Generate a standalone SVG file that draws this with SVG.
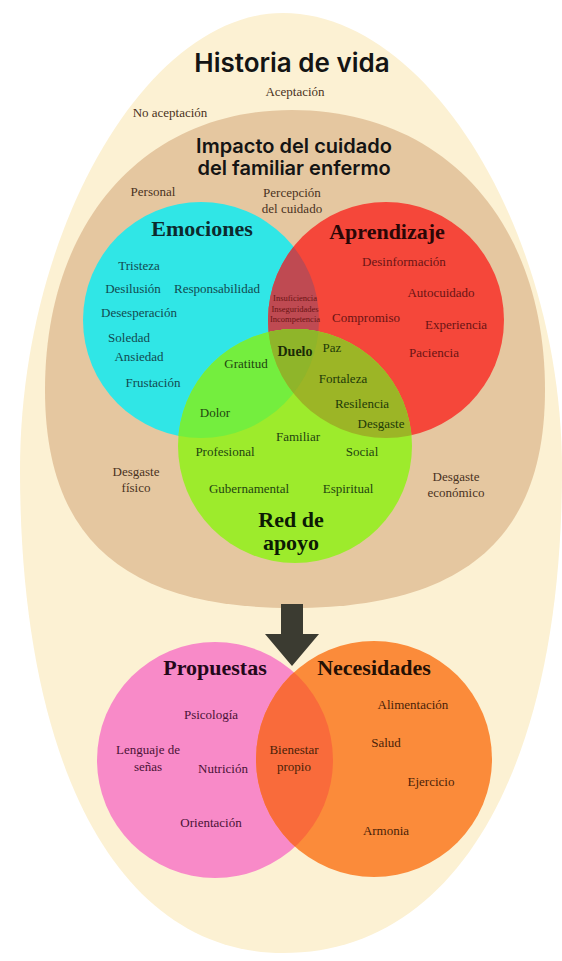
<svg xmlns="http://www.w3.org/2000/svg" width="562" height="961" viewBox="0 0 562 961">
<style>
.s{font-family:"Liberation Serif","Times New Roman",serif;font-size:13px;text-anchor:middle}
.tiny{font-size:8.5px}
.bold14{font-size:14px;font-weight:bold}
.b{font-family:"Liberation Serif","Times New Roman",serif;font-weight:bold;font-size:22px;text-anchor:middle}
.h{font-family:Inter,"Liberation Sans",sans-serif;font-weight:600;text-anchor:middle;fill:#141414}
.t{fill:#4a3222}
.cy{fill:#124a50}
.rd{fill:#6a1414}
.gr{fill:#1f4410}
.ol{fill:#1e3a08}
.pk{fill:#4a1236}
.or{fill:#4a2208}
</style>
<defs>
<clipPath id="clipCyan"><circle cx="201" cy="320" r="118"/></clipPath>
<clipPath id="clipRed"><circle cx="386" cy="320" r="118"/></clipPath>
<clipPath id="clipPink"><circle cx="215" cy="760" r="118"/></clipPath>
</defs>
<rect width="562" height="961" fill="#ffffff"/>

<g id="historia-de-vida">
<path d="M283,13 C428,13 562,232 562,470 C562,769 456,953 283,953 C120,953 20,769 20,470 C20,232 146,13 283,13 Z" fill="#fcf1d3"/>
<text class="h" x="292" y="72" style="font-size:26px">Historia de vida</text>
<text class="s t" x="295" y="96">Aceptación</text>
<text class="s t" x="170" y="117">No aceptación</text>
</g>

<g id="impacto">
<path d="M292,110 C444,110 545,222 545,390 C545,538 464,608 292,608 C124,608 45,538 45,390 C45,222 144,110 292,110 Z" fill="#e5c7a0"/>
<text class="h" x="294" y="153" style="font-size:20px">Impacto del cuidado</text>
<text class="h" x="294" y="175" style="font-size:20px">del familiar enfermo</text>
<text class="s t" x="153" y="196">Personal</text>
<text class="s t" x="292" y="197">Percepción</text>
<text class="s t" x="292" y="213">del cuidado</text>
<text class="s t" x="136" y="476">Desgaste</text>
<text class="s t" x="136" y="492">físico</text>
<text class="s t" x="456" y="481">Desgaste</text>
<text class="s t" x="456" y="497">económico</text>
</g>

<g id="emociones">
<circle cx="201" cy="320" r="118" fill="#30e6e6"/>
<text class="b" x="202" y="236" fill="#0c2a2e">Emociones</text>
<text class="s cy" x="139" y="270">Tristeza</text>
<text class="s cy" x="133" y="293">Desilusión</text>
<text class="s cy" x="217" y="293">Responsabilidad</text>
<text class="s cy" x="139" y="317">Desesperación</text>
<text class="s cy" x="129" y="342">Soledad</text>
<text class="s cy" x="139" y="361">Ansiedad</text>
<text class="s cy" x="153" y="387">Frustación</text>
</g>

<g id="aprendizaje">
<circle cx="386" cy="320" r="118" fill="#f5473a"/>
<text class="b" x="387" y="239" fill="#2a0606">Aprendizaje</text>
<text class="s rd" x="404" y="266">Desinformación</text>
<text class="s rd" x="441" y="297">Autocuidado</text>
<text class="s rd" x="366" y="322">Compromiso</text>
<text class="s rd" x="456" y="329">Experiencia</text>
<text class="s rd" x="434" y="357">Paciencia</text>
</g>

<g id="emociones-aprendizaje">
<circle cx="386" cy="320" r="118" fill="#bf4a52" clip-path="url(#clipCyan)"/>
<text class="s tiny rd" x="295" y="301">Insuficiencia</text>
<text class="s tiny rd" x="295" y="311.5">Inseguridades</text>
<text class="s tiny rd" x="295" y="322">Incompetencia</text>
</g>

<g id="red-de-apoyo">
<circle cx="295" cy="446" r="117" fill="#9deb2c"/>
<text class="b" x="291" y="527" fill="#0c1a04">Red de</text>
<text class="b" x="291" y="550" fill="#0c1a04">apoyo</text>
<text class="s gr" x="298" y="441">Familiar</text>
<text class="s gr" x="225" y="456">Profesional</text>
<text class="s gr" x="362" y="456">Social</text>
<text class="s gr" x="249" y="493">Gubernamental</text>
<text class="s gr" x="348" y="493">Espiritual</text>
</g>

<g id="emociones-red">
<circle cx="295" cy="446" r="117" fill="#74ee3e" clip-path="url(#clipCyan)"/>
<text class="s gr" x="246" y="368">Gratitud</text>
<text class="s gr" x="215" y="417">Dolor</text>
</g>

<g id="aprendizaje-red">
<circle cx="295" cy="446" r="117" fill="#9cb526" clip-path="url(#clipRed)"/>
<text class="s ol" x="332" y="352">Paz</text>
<text class="s ol" x="343" y="383">Fortaleza</text>
<text class="s ol" x="362" y="408">Resilencia</text>
<text class="s ol" x="381" y="428">Desgaste</text>
</g>

<g id="interseccion-central">
<g clip-path="url(#clipCyan)"><circle cx="295" cy="446" r="117" fill="#8fb52a" clip-path="url(#clipRed)"/></g>
<text class="s bold14" x="295" y="356" fill="#1a2a06">Duelo</text>
</g>

<g id="propuestas">
<circle cx="215" cy="760" r="118" fill="#f88ac8"/>
<text class="b" x="215" y="675" fill="#24081a">Propuestas</text>
<text class="s pk" x="211" y="719">Psicología</text>
<text class="s pk" x="148" y="754">Lenguaje de</text>
<text class="s pk" x="148" y="771">señas</text>
<text class="s pk" x="223" y="773">Nutrición</text>
<text class="s pk" x="211" y="827">Orientación</text>
</g>

<g id="necesidades">
<circle cx="374" cy="759" r="118" fill="#fb8b3a"/>
<text class="b" x="374" y="675" fill="#241004">Necesidades</text>
<text class="s or" x="413" y="709">Alimentación</text>
<text class="s or" x="386" y="747">Salud</text>
<text class="s or" x="431" y="786">Ejercicio</text>
<text class="s or" x="386" y="835">Armonia</text>
</g>

<g id="bienestar">
<circle cx="374" cy="759" r="118" fill="#f96b3b" clip-path="url(#clipPink)"/>
<text class="s or" x="294" y="754">Bienestar</text>
<text class="s or" x="294" y="771">propio</text>
</g>

<g id="connectors">
<path d="M281,604 H303 V634 H319 L292,666 L265,634 H281 Z" fill="#3b3b31"/>
</g>
</svg>
